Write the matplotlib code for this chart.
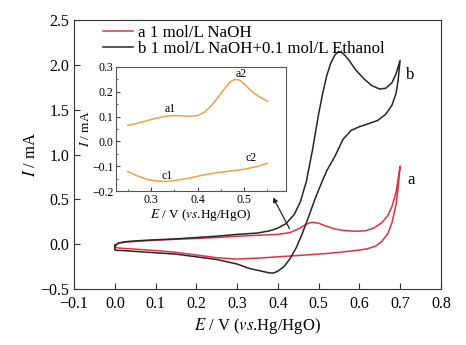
import matplotlib
matplotlib.use("Agg")
import matplotlib.pyplot as plt
from matplotlib.ticker import MultipleLocator

plt.rcParams['font.family'] = ['Liberation Serif', 'DejaVu Serif']
plt.rcParams['mathtext.fontset'] = 'stix'

# curve a: 1 mol/L NaOH (forward then reverse scan)
a_fwd_E = [0.0, 0.01, 0.03, 0.06, 0.1, 0.15, 0.2, 0.25, 0.3, 0.35, 0.4, 0.43, 0.45, 0.465,
           0.475, 0.485, 0.5, 0.52, 0.54, 0.56, 0.59, 0.615, 0.635, 0.655, 0.67, 0.68, 0.69, 0.695, 0.70]
a_fwd_I = [-0.01, 0.015, 0.025, 0.035, 0.045, 0.055, 0.065, 0.075, 0.09, 0.10, 0.11, 0.13, 0.17, 0.21,
           0.235, 0.245, 0.235, 0.2, 0.17, 0.155, 0.145, 0.15, 0.18, 0.24, 0.32, 0.42, 0.58, 0.72, 0.87]
a_rev_E = [0.70, 0.695, 0.69, 0.68, 0.67, 0.655, 0.64, 0.62, 0.6, 0.57, 0.54, 0.5, 0.45, 0.4,
           0.35, 0.3, 0.25, 0.2, 0.15, 0.1, 0.05, 0.02, 0.005, 0.0]
a_rev_I = [0.87, 0.62, 0.44, 0.24, 0.12, 0.03, -0.02, -0.05, -0.065, -0.08, -0.095, -0.11, -0.125, -0.14,
           -0.155, -0.165, -0.15, -0.12, -0.09, -0.07, -0.055, -0.045, -0.04, -0.03]

# curve b: 1 mol/L NaOH + 0.1 mol/L ethanol
b_fwd_E = [0.0, 0.01, 0.03, 0.06, 0.1, 0.15, 0.2, 0.25, 0.3, 0.35, 0.38, 0.40, 0.42, 0.44,
           0.455, 0.47, 0.485, 0.50, 0.51, 0.52, 0.53, 0.54, 0.549, 0.56, 0.575, 0.59, 0.61,
           0.63, 0.65, 0.665, 0.68, 0.69, 0.70]
b_fwd_I = [-0.02, 0.015, 0.03, 0.04, 0.05, 0.06, 0.075, 0.09, 0.11, 0.125, 0.15, 0.18, 0.23, 0.33,
           0.47, 0.70, 1.05, 1.45, 1.68, 1.88, 2.02, 2.11, 2.15, 2.13, 2.05, 1.95, 1.85,
           1.77, 1.73, 1.74, 1.80, 1.90, 2.05]
b_rev_E = [0.70, 0.695, 0.69, 0.68, 0.665, 0.645, 0.62, 0.60, 0.58, 0.56, 0.54, 0.52, 0.505,
           0.49, 0.475, 0.46, 0.445, 0.43, 0.415, 0.40, 0.39, 0.38, 0.36, 0.33, 0.3, 0.25, 0.2,
           0.15, 0.1, 0.05, 0.02, 0.005, 0.0]
b_rev_I = [2.05, 1.82, 1.68, 1.55, 1.45, 1.38, 1.34, 1.31, 1.27, 1.17, 0.98, 0.82, 0.66,
           0.49, 0.30, 0.12, -0.04, -0.16, -0.25, -0.30, -0.32, -0.32, -0.30, -0.27, -0.22, -0.17, -0.14,
           -0.11, -0.095, -0.08, -0.07, -0.068, -0.065]

# inset: curve a between 0.25 and 0.55 V
in_up_E = [0.25, 0.27, 0.29, 0.31, 0.33, 0.345, 0.36, 0.38, 0.40, 0.415, 0.43, 0.445, 0.46,
           0.47, 0.48, 0.49, 0.50, 0.51, 0.52, 0.535, 0.55]
in_up_I = [0.065, 0.073, 0.083, 0.093, 0.101, 0.104, 0.104, 0.101, 0.104, 0.118, 0.145, 0.18, 0.218,
           0.24, 0.25, 0.247, 0.232, 0.213, 0.196, 0.177, 0.162]
in_lo_E = [0.25, 0.27, 0.29, 0.31, 0.33, 0.35, 0.38, 0.41, 0.44, 0.47, 0.50, 0.53, 0.55]
in_lo_I = [-0.121, -0.138, -0.152, -0.159, -0.161, -0.158, -0.148, -0.136, -0.126, -0.119, -0.112, -0.1, -0.088]

red = '#e2323f'
blk = '#262626'
orange = '#f2a048'

fig = plt.figure(figsize=(4.66, 3.45), dpi=100)
ax = fig.add_axes([0.159, 0.162, 0.787, 0.780])

ax.plot(a_fwd_E + a_rev_E + a_fwd_E[:1], a_fwd_I + a_rev_I + a_fwd_I[:1], color=red, lw=1.1,
        label='a 1 mol/L NaOH')
ax.plot(b_fwd_E + b_rev_E + b_fwd_E[:1], b_fwd_I + b_rev_I + b_fwd_I[:1], color=blk, lw=1.1,
        label='b 1 mol/L NaOH+0.1 mol/L Ethanol')

ax.set_xlim(-0.1, 0.8)
ax.set_ylim(-0.5, 2.5)
ax.xaxis.set_major_locator(MultipleLocator(0.1))
ax.yaxis.set_major_locator(MultipleLocator(0.5))
ax.tick_params(direction='in', length=4, labelsize=11.5, color='#333333')
ax.tick_params(axis='x', pad=5)
for s in ax.spines.values():
    s.set_color('#333333')
ax.set_xlabel(r'$E$ / V ($vs$.Hg/HgO)', fontsize=12, labelpad=3)
ax.set_ylabel(r'$I$ / mA', fontsize=12, labelpad=1)

ax.legend(loc='upper left', bbox_to_anchor=(0.05, 1.02), frameon=False, fontsize=12.2,
          handlelength=1.8, handletextpad=0.3, labelspacing=0.0, borderaxespad=0.2)

ax.text(0.728, 0.72, 'a', fontsize=12, ha='center', va='center')
ax.text(0.724, 1.89, 'b', fontsize=12, ha='center', va='center')
ax.annotate('', xy=(0.385, 0.55), xytext=(0.432, 0.145),
            arrowprops=dict(arrowstyle='-|>', color=blk, lw=0.9, mutation_scale=7))

# inset
ins = fig.add_axes([0.249, 0.446, 0.365, 0.360])
ins.plot(in_up_E, in_up_I, color=orange, lw=1.1)
ins.plot(in_lo_E, in_lo_I, color=orange, lw=1.1)
ins.set_xlim(0.225, 0.59)
ins.set_ylim(-0.2, 0.3)
ins.xaxis.set_major_locator(MultipleLocator(0.1))
ins.xaxis.set_minor_locator(MultipleLocator(0.05))
ins.yaxis.set_major_locator(MultipleLocator(0.1))
ins.yaxis.set_minor_locator(MultipleLocator(0.05))
ins.tick_params(which='both', direction='in', labelsize=8.5, color='#444444', pad=2)
ins.tick_params(which='major', length=3)
ins.tick_params(which='minor', length=1.5)
for s in ins.spines.values():
    s.set_color('#555555')
ins.set_xlabel(r'$E$ / V ($vs$.Hg/HgO)', fontsize=9.5, labelpad=1)
ins.set_ylabel(r'$I$ / mA', fontsize=9.5, labelpad=0)
ins.text(0.341, 0.132, 'a1', fontsize=8.5, ha='center', va='center')
ins.text(0.493, 0.272, 'a2', fontsize=8.5, ha='center', va='center')
ins.text(0.334, -0.141, 'c1', fontsize=8.5, ha='center', va='center')
ins.text(0.515, -0.068, 'c2', fontsize=8.5, ha='center', va='center')

fig.savefig('out.png', dpi=100)
